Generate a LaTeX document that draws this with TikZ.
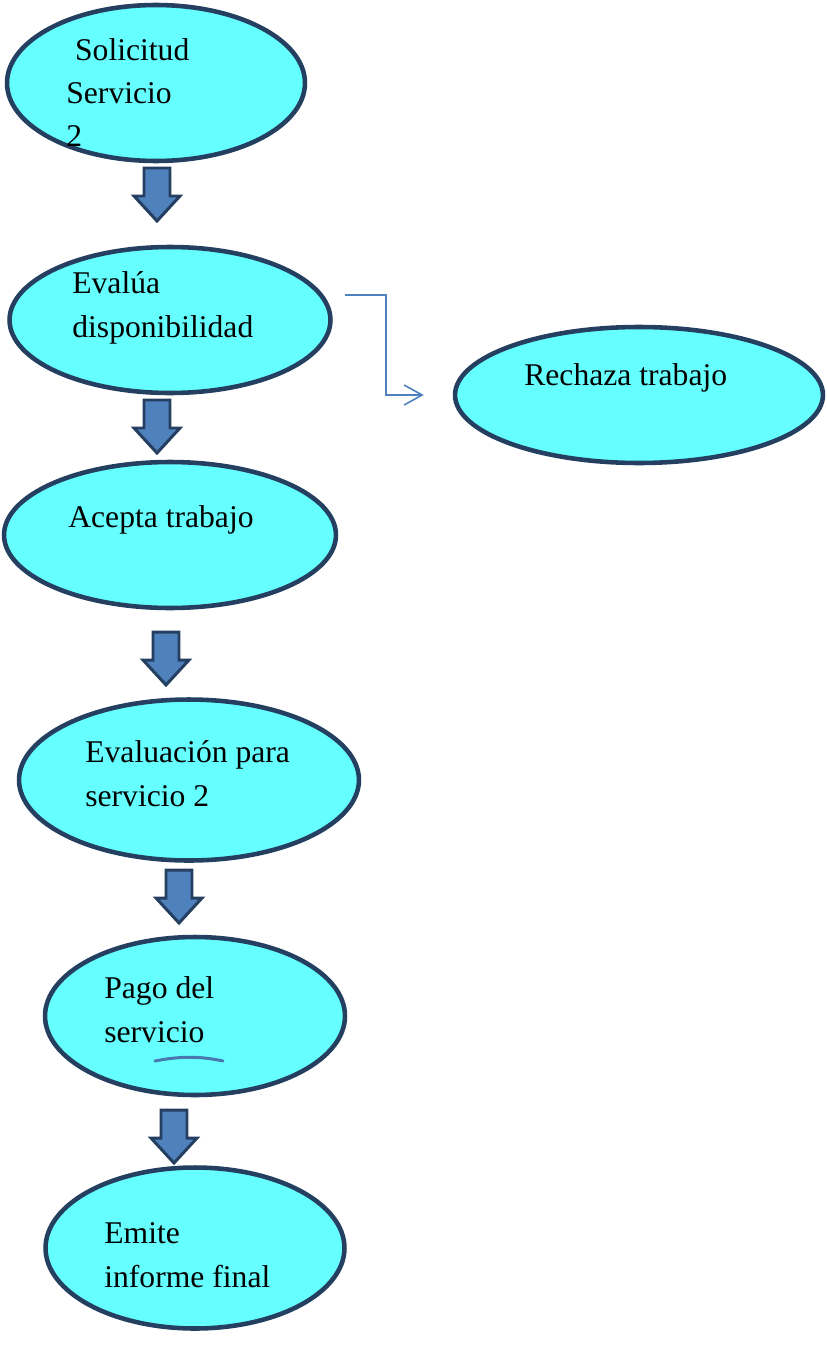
\documentclass[tikz,border=0pt]{standalone}
\usepackage{fontspec}
\setmainfont{Liberation Serif}
\usetikzlibrary{shapes.geometric,arrows.meta}
\definecolor{cian}{HTML}{66FFFF}
\definecolor{borde}{HTML}{243F60}
\definecolor{azul}{HTML}{4F81BD}

\begin{document}
\begin{tikzpicture}[x=0.02cm,y=-0.02cm,
  etapa/.style={ellipse,draw=borde,fill=cian,line width=2.6pt},
  texto/.style={anchor=base west,align=left,inner sep=0pt,font=\fontsize{18}{24.5}\selectfont},
  bloque/.style={draw=borde,fill=azul,line width=1.7pt,line join=miter},
  rechazo/.style={azul,line width=0.9pt,-{Straight Barb[length=0.36cm,width=0.4cm]}}]

  \useasboundingbox (0,0) rectangle (827,1345);

  \node[etapa,minimum width=5.96cm,minimum height=3.12cm] (e1) at (156,83) {};
  \node[etapa,minimum width=6.42cm,minimum height=2.92cm] (e2) at (170,320) {};
  \node[etapa,minimum width=7.36cm,minimum height=2.72cm] (e3) at (639,395) {};
  \node[etapa,minimum width=6.64cm,minimum height=2.92cm] (e4) at (170,535) {};
  \node[etapa,minimum width=6.80cm,minimum height=3.22cm] (e5) at (189,780) {};
  \node[etapa,minimum width=6.00cm,minimum height=3.16cm] (e6) at (195,1016) {};
  \node[etapa,minimum width=5.98cm,minimum height=3.22cm] (e7) at (195,1248) {};

  % texto anclado en la linea base de la ultima linea
  \node[texto] (t1) at (66,147) {\hspace{5pt}Solicitud\\Servicio\\2};
  \node[texto] (t2) at (72,337) {Evalúa\\disponibilidad};
  \node[texto] (t3) at (524,385) {Rechaza trabajo};
  \node[texto] (t4) at (68,527) {Acepta trabajo};
  \node[texto] (t5) at (85,806) {Evaluación para\\servicio 2};
  \node[texto] (t6) at (104,1042) {Pago del\\servicio};
  \node[texto] (t7) at (104,1287) {Emite\\informe final};

  % flechas de bloque entre etapas
  \foreach \x/\y in {157/168,157/400,166/632,179/870,174/1110}
    \draw[bloque] (\x,\y) ++(-13,0) -- ++(26,0) -- ++(0,28) -- ++(10,0)
      -- ++(-23,25) -- ++(-23,-25) -- ++(10,0) -- cycle;

  \draw[rechazo] ([shift={(12,-25)}]e2.east) -- ++(41,0) |- ([xshift=-29*0.02cm]e3.west);

  \draw[azul!85!borde,line width=1.7pt,line cap=round]
    (155,1061) .. controls (180,1056) and (200,1056) .. (223,1061);
\end{tikzpicture}
\end{document}
